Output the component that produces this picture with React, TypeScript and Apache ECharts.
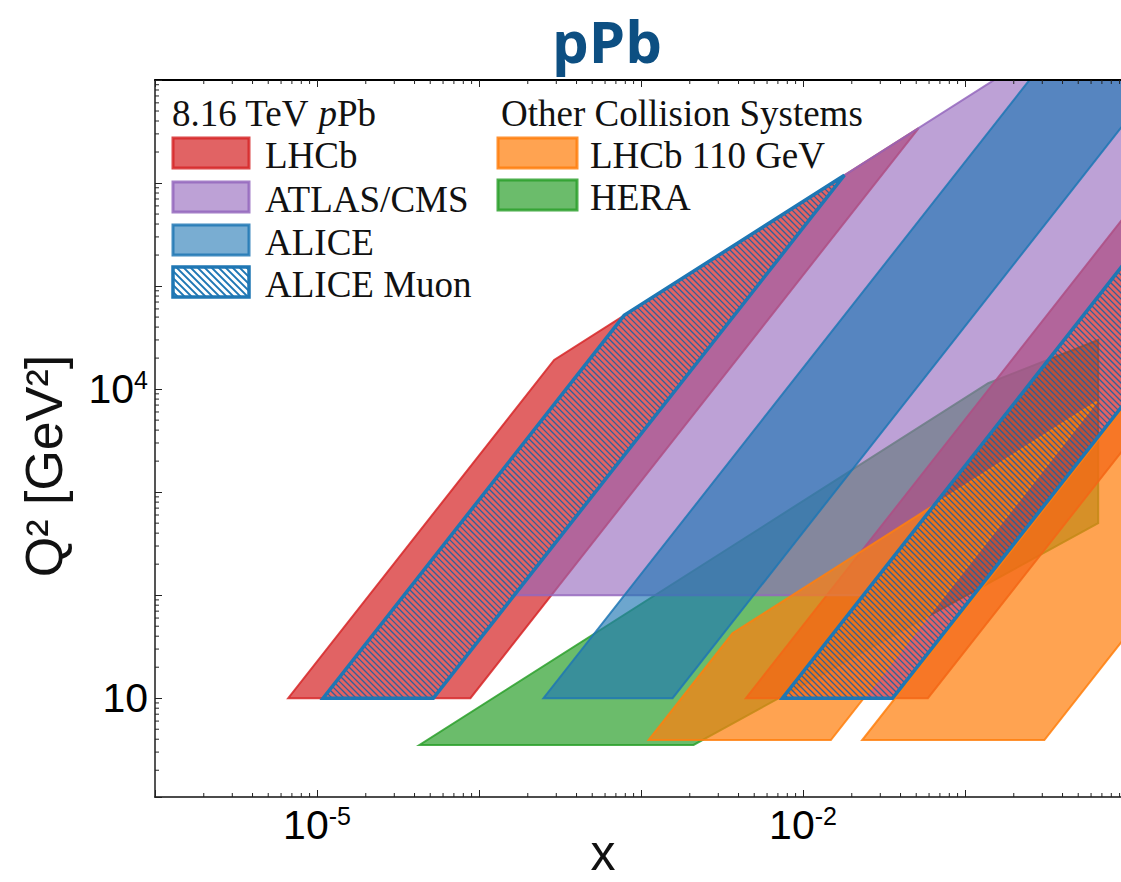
import React, { useEffect, useRef } from "react";
import * as echarts from "echarts";

// ---------- axes ----------
const X_MIN = 1e-6;
const X_MAX = 1;
const Y_MIN = 1.1;
const Y_MAX = 1e7;

const X_TICK_LABELS = [
  { value: 1e-5, text: "10", sup: "-5" },
  { value: 1e-2, text: "10", sup: "-2" },
];
const Y_TICK_LABELS = [
  { value: 10, text: "10", sup: "" },
  { value: 1e4, text: "10", sup: "4" },
];
const X_DECADES = [-6, -5, -4, -3, -2, -1];
const Y_DECADES = [0, 1, 2, 3, 4, 5, 6];
const MINOR_MULT = [2, 3, 4, 5, 6, 7, 8, 9];

// ---------- regions: vertices [x, Q^2] ----------
const LHCB_BANDS = [
  [[6.64e-6, 10], [8.85e-5, 10], [0.0518, 3.42e6], [2.91e-4, 1.92e4]],
  [[4.44e-3, 10], [0.059, 10], [1, 2871], [1, 5.08e5]],
];
const ATLAS_CMS_BANDS = [
  [[1.65e-4, 100], [0.0236, 100], [1, 1.795e5], [1, 6.61e7], [0.018, 1.19e6]],
];
const ALICE_BANDS = [
  [[2.5e-4, 10], [1.567e-3, 10], [1, 4.07e6], [1, 6.61e7], [0.413, 2.73e7]],
];
const ALICE_MUON_BANDS = [
  [[1.09e-5, 10], [5.22e-5, 10], [0.018, 1.19e6], [7.87e-4, 5.2e4]],
  [[7.46e-3, 10], [0.0357, 10], [1, 7834], [1, 1.795e5]],
];
const LHCB_110_BANDS = [
  [[1.114e-3, 3.93], [0.01486, 3.93], [0.653, 7586], [3.67e-3, 42.7]],
  [[0.0232, 3.93], [0.309, 3.93], [1, 41.1], [1, 7311]],
];
const HERA_REGION = [
  [[4.29e-5, 3.52], [2.11e-3, 3.52], [0.664, 501], [0.664, 3.0e4], [0.139, 1.14e4]],
];

// ---------- texts ----------
const TITLE = "pPb";
const X_TITLE = "x";
const Y_TITLE = "Q² [GeV²]";
const LEGEND_LEFT_HEADER = "8.16 TeV {i|p}Pb";
const LEGEND_RIGHT_HEADER = "Other Collision Systems";

const RED = [214, 39, 40];
const PURPLE = [148, 103, 189];
const BLUE = [31, 119, 180];
const GREEN = [44, 160, 44];
const ORANGE = [255, 127, 14];

const rgba = (c: number[], a: number) => `rgba(${c[0]},${c[1]},${c[2]},${a})`;

// drawing order (bottom to top)
const FILLED = [
  { name: "HERA", bands: HERA_REGION, color: GREEN, alpha: 0.7 },
  { name: "LHCb", bands: LHCB_BANDS, color: RED, alpha: 0.72 },
  { name: "ATLAS/CMS", bands: ATLAS_CMS_BANDS, color: PURPLE, alpha: 0.62 },
  { name: "ALICE", bands: ALICE_BANDS, color: BLUE, alpha: 0.65 },
  { name: "LHCb 110 GeV", bands: LHCB_110_BANDS, color: ORANGE, alpha: 0.72 },
];

// clip hatch lines (y = x + b, screen coords) to convex polygon
function hatchLines(poly: number[][], pitch: number) {
  const n = poly.length;
  let bmin = Infinity, bmax = -Infinity, cx = 0, cy = 0;
  poly.forEach(([x, y]) => {
    bmin = Math.min(bmin, y - x);
    bmax = Math.max(bmax, y - x);
    cx += x / n;
    cy += y / n;
  });
  const segs: number[][] = [];
  for (let b = Math.ceil(bmin / pitch) * pitch; b <= bmax; b += pitch) {
    let t0 = -Infinity, t1 = Infinity, ok = true;
    for (let i = 0; i < n; i++) {
      const a = poly[i], c = poly[(i + 1) % n];
      let nx = -(c[1] - a[1]), ny = c[0] - a[0];
      if (nx * (cx - a[0]) + ny * (cy - a[1]) < 0) { nx = -nx; ny = -ny; }
      const num = nx * (0 - a[0]) + ny * (b - a[1]);
      const den = nx + ny;
      if (Math.abs(den) < 1e-12) {
        if (num < 0) { ok = false; break; }
        continue;
      }
      const t = -num / den;
      if (den > 0) t0 = Math.max(t0, t); else t1 = Math.min(t1, t);
    }
    if (ok && t1 > t0) segs.push([t0, t0 + b, t1, t1 + b]);
  }
  return segs;
}

function buildOption() {
  const xMinor = X_DECADES.flatMap((d) => MINOR_MULT.map((k) => k * Math.pow(10, d)));
  const yMinor = Y_DECADES.flatMap((d) => MINOR_MULT.map((k) => k * Math.pow(10, d))).filter(
    (v) => v > Y_MIN && v < Y_MAX
  );

  const richLabel = {
    b: { fontSize: 41, lineHeight: 44, fontFamily: "Liberation Sans", color: "#000" },
    s: { fontSize: 25, lineHeight: 25, fontFamily: "Liberation Sans", color: "#000", verticalAlign: "top" },
  };
  const fmt = (list: typeof X_TICK_LABELS) => (v: number) => {
    const e = list.find((t) => Math.abs(Math.log10(v) - Math.log10(t.value)) < 1e-6);
    if (!e) return "";
    return e.sup ? `{b|${e.text}}{s|${e.sup}}` : `{b|${e.text}}`;
  };

  const series: any[] = FILLED.map((def, i) => ({
    type: "custom",
    name: def.name,
    z: 2 + i,
    clip: true,
    silent: true,
    data: def.bands.map((b) => b[0]),
    encode: { x: 0, y: 1 },
    renderItem: (params: any, api: any) => {
      const pts = def.bands[params.dataIndex].map((p) => api.coord(p));
      return {
        type: "polygon",
        shape: { points: pts },
        style: { fill: rgba(def.color, def.alpha), stroke: rgba(def.color, 0.85), lineWidth: 2 },
      };
    },
  }));

  series.push({
    type: "custom",
    name: "ALICE Muon",
    z: 8,
    clip: true,
    silent: true,
    data: ALICE_MUON_BANDS.map((b) => b[0]),
    encode: { x: 0, y: 1 },
    renderItem: (params: any, api: any) => {
      const pts = ALICE_MUON_BANDS[params.dataIndex].map((p) => api.coord(p));
      const lines = hatchLines(pts, 6).map((s) => ({
        type: "line",
        shape: { x1: s[0], y1: s[1], x2: s[2], y2: s[3] },
        style: { stroke: "rgba(31,95,160,0.9)", lineWidth: 1.3 },
      }));
      return {
        type: "group",
        children: [
          ...lines,
          { type: "polygon", shape: { points: pts }, style: { fill: "none", stroke: "#1f77b4", lineWidth: 3.5 } },
        ],
      };
    },
  });

  const tickStyle = { stroke: "#222", lineWidth: 1 };
  series.push({
    type: "custom",
    z: 21,
    silent: true,
    clip: false,
    data: xMinor.map((v) => [v, Y_MIN]),
    encode: { x: 0, y: 1 },
    renderItem: (params: any, api: any) => {
      const v = api.value(0);
      const b = api.coord([v, Y_MIN]);
      const t = api.coord([v, Y_MAX]);
      return {
        type: "group",
        children: [
          { type: "line", shape: { x1: b[0], y1: b[1], x2: b[0], y2: b[1] - 4 }, style: tickStyle },
          { type: "line", shape: { x1: t[0], y1: t[1], x2: t[0], y2: t[1] + 4 }, style: tickStyle },
        ],
      };
    },
  });
  series.push({
    type: "custom",
    z: 21,
    silent: true,
    clip: false,
    data: yMinor.map((v) => [X_MIN, v]),
    encode: { x: 0, y: 1 },
    renderItem: (params: any, api: any) => {
      const v = api.value(1);
      const p = api.coord([X_MIN, v]);
      return { type: "line", shape: { x1: p[0], y1: p[1], x2: p[0] + 4, y2: p[1] }, style: tickStyle };
    },
  });

  // legend graphics
  const g: any[] = [];
  const serif = "Liberation Serif";
  const legText = (text: string, x: number, y: number, rich?: any) => ({
    type: "text",
    z: 100,
    x,
    y,
    style: {
      text,
      x: 0,
      y: 0,
      fill: "#111",
      fontSize: 37,
      fontFamily: serif,
      textAlign: "left",
      align: "left",
      textVerticalAlign: "middle",
      verticalAlign: "middle",
      rich,
    },
  });
  const swatch = (x: number, y: number, w: number, c: number[], a: number) => ({
    type: "rect",
    z: 100,
    shape: { x, y, width: w, height: 30 },
    style: { fill: rgba(c, a), stroke: rgba(c, 0.85), lineWidth: 3 },
  });

  g.push(
    legText(LEGEND_LEFT_HEADER, 172, 113, {
      i: { fontSize: 37, fontFamily: serif, fontStyle: "italic", color: "#111" },
    })
  );
  g.push(legText(LEGEND_RIGHT_HEADER, 501, 113));
  const leftRows = [
    { name: "LHCb", c: RED, a: 0.72, top: 138 },
    { name: "ATLAS/CMS", c: PURPLE, a: 0.62, top: 182 },
    { name: "ALICE", c: BLUE, a: 0.6, top: 225 },
  ];
  leftRows.forEach((r) => {
    g.push(swatch(173, r.top, 76, r.c, r.a));
    g.push(legText(r.name, 265, r.top + 17));
  });
  // hatched swatch
  const hr = [[173, 267], [249, 267], [249, 297], [173, 297]];
  hatchLines(hr, 7).forEach((s) =>
    g.push({
      type: "line",
      z: 100,
      shape: { x1: s[0], y1: s[1], x2: s[2], y2: s[3] },
      style: { stroke: "#1f77b4", lineWidth: 1.8 },
    })
  );
  g.push({
    type: "rect",
    z: 101,
    shape: { x: 173, y: 267, width: 76, height: 30 },
    style: { fill: "none", stroke: "#1f77b4", lineWidth: 3.5 },
  });
  g.push(legText("ALICE Muon", 265, 284));
  const rightRows = [
    { name: "LHCb 110 GeV", c: ORANGE, a: 0.72, top: 138 },
    { name: "HERA", c: GREEN, a: 0.7, top: 180 },
  ];
  rightRows.forEach((r) => {
    g.push(swatch(498, r.top, 79, r.c, r.a));
    g.push(legText(r.name, 590, r.top + 17));
  });

  // titles
  g.push({
    type: "text",
    z: 100,
    x: 607,
    y: 40,
    style: {
      text: TITLE,
      x: 0,
      y: 0,
      fill: "#0d4f82",
      fontSize: 58,
      fontWeight: "bold",
      fontFamily: "Open Sans",
      textAlign: "center",
      align: "center",
      textVerticalAlign: "middle",
      verticalAlign: "middle",
    },
  });
  g.push({
    type: "text",
    z: 100,
    x: 603,
    y: 853,
    style: {
      text: X_TITLE,
      x: 0,
      y: 0,
      fill: "#111",
      fontSize: 50,
      lineHeight: 36,
      fontFamily: "Liberation Sans",
      textAlign: "center",
      align: "center",
      textVerticalAlign: "middle",
      verticalAlign: "middle",
    },
  });
  g.push({
    type: "text",
    z: 100,
    x: 44,
    y: 466,
    rotation: Math.PI / 2,
    style: {
      text: Y_TITLE,
      x: 0,
      y: 0,
      fill: "#111",
      fontSize: 52,
      fontFamily: "Liberation Sans",
      textAlign: "center",
      align: "center",
      textVerticalAlign: "middle",
      verticalAlign: "middle",
    },
  });

  const tick = { show: true, inside: true, length: 7, lineStyle: { color: "#222", width: 1 } };

  return {
    animation: false,
    backgroundColor: "#fff",
    grid: { left: 155, top: 80, width: 972, height: 717, containLabel: false, outerBoundsMode: "none" },
    xAxis: [
      {
        type: "log",
        logBase: 10,
        min: X_MIN,
        max: X_MAX,
        position: "bottom",
        z: 20,
        axisLine: { show: true, lineStyle: { color: "#111", width: 1.5 } },
        axisTick: tick,
        splitLine: { show: false },
        minorTick: { show: false },
        axisLabel: { show: true, margin: 6, formatter: fmt(X_TICK_LABELS), rich: richLabel },
      },
      {
        type: "log",
        logBase: 10,
        min: X_MIN,
        max: X_MAX,
        position: "top",
        z: 20,
        axisLine: { show: true, lineStyle: { color: "#000", width: 2 } },
        axisTick: tick,
        splitLine: { show: false },
        axisLabel: { show: false },
      },
    ],
    yAxis: {
      type: "log",
      logBase: 10,
      min: Y_MIN,
      max: Y_MAX,
      z: 20,
      axisLine: { show: true, lineStyle: { color: "#555", width: 2 } },
      axisTick: tick,
      splitLine: { show: false },
      axisLabel: { show: true, margin: 7, formatter: fmt(Y_TICK_LABELS), rich: richLabel },
    },
    series,
    graphic: g,
  };
}

export default function App() {
  const ref = useRef<HTMLDivElement>(null);
  useEffect(() => {
    if (!ref.current) return;
    const chart = echarts.init(ref.current, undefined, { renderer: "svg" });
    chart.setOption(buildOption() as any);
    return () => chart.dispose();
  }, []);
  return (
    <div
      ref={ref}
      style={{ position: "fixed", left: 0, top: 0, width: 1130, height: 882, background: "#fff" }}
    />
  );
}
